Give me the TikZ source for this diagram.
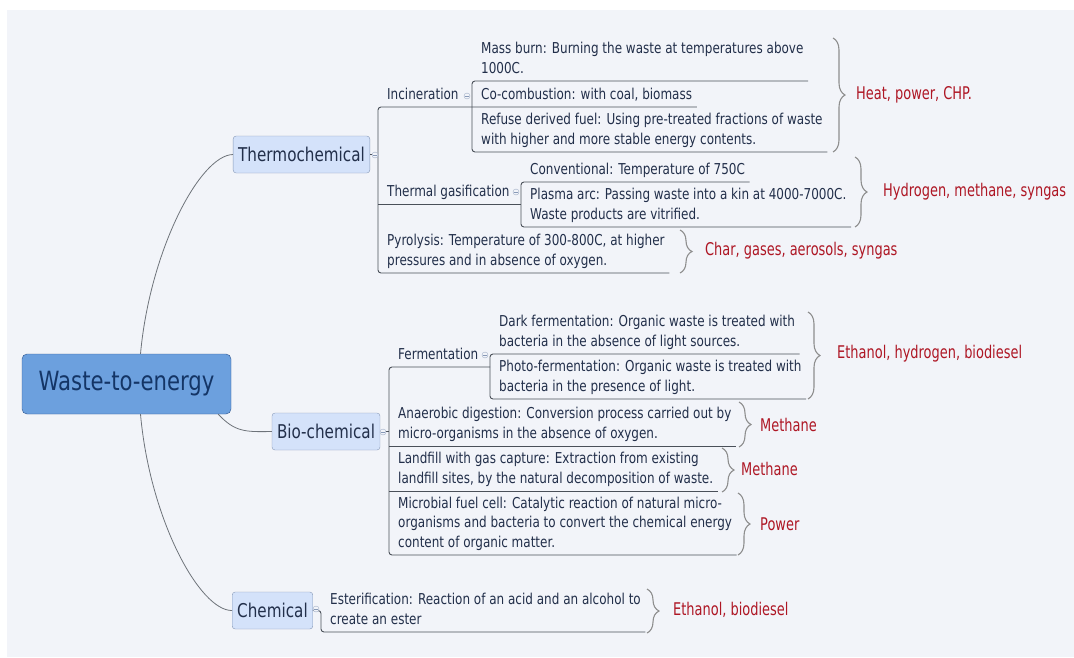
\documentclass[tikz,border=0pt]{standalone}
\usepackage{fontspec}
\usepackage{xcolor}
\usepackage{tikz}
\usetikzlibrary{decorations.pathreplacing}
\setmainfont{DejaVu Sans}[FakeStretch=0.8]
\newfontfamily\notefont{DejaVu Sans}[FakeStretch=0.74]
\definecolor{wtebg}{HTML}{F2F4F9}
\definecolor{wteroot}{HTML}{6CA0DE}
\definecolor{wterootline}{HTML}{2E568F}
\definecolor{wtenavy}{HTML}{143566}
\definecolor{wtebranch}{HTML}{D4E2FA}
\definecolor{wtebranchline}{HTML}{8799B7}
\definecolor{wtetext}{HTML}{222F4A}
\definecolor{wteline}{HTML}{4A5059}
\definecolor{wtecurve}{HTML}{6E737A}
\definecolor{wtered}{HTML}{AE1624}
\definecolor{wtebrace}{HTML}{8E8E8E}

\begin{document}
\begin{tikzpicture}[x=1pt, y=-1pt,
  root/.style={draw=wterootline, fill=wteroot, rounded corners=5pt, text=wtenavy,
    minimum width=209pt, minimum height=60pt, font=\fontsize{26.5}{30}\selectfont},
  branch/.style={draw=wtebranchline, fill=wtebranch, rounded corners=3pt, text=wtetext,
    minimum height=37pt, inner xsep=5pt, font=\fontsize{19}{22}\selectfont},
  topic/.style={anchor=south west, align=left, inner xsep=4.5pt, inner ysep=1.5pt,
    text=wtetext, font=\fontsize{15}{19.5}\selectfont, execute at end node=\strut},
  result/.style={anchor=west, inner sep=2pt, text=wtered,
    font=\notefont\fontsize{17.5}{20}\selectfont},
  uline/.style={draw=wteline, line width=0.9pt, rounded corners=3pt},
  curve/.style={draw=wtecurve, line width=0.8pt},
  brc/.style={decorate, decoration={brace, amplitude=12pt}, draw=wtebrace, line width=1.1pt},
  fold/.style={circle, draw=wtebranchline!80, fill=wtebg, minimum size=6pt, inner sep=0pt,
    path picture={\draw[wtebranchline] ([xshift=1.2pt]path picture bounding box.west)
      -- ([xshift=-1.2pt]path picture bounding box.east);}}
]
\useasboundingbox (0,0) rectangle (1074,657);
\fill[white] (0,0) rectangle (1074,657);
\fill[wtebg] (7,10) rectangle (1074,657);

\node[root] (root) at (126.5,384) {Waste-to-energy};
\node[branch] (thermo) at (301.5,154.5) {Thermochemical};
\node[branch] (bio) at (326,431.5) {Bio-chemical};
\node[branch] (chem) at (272.5,610.5) {Chemical};

\draw[curve] ([xshift=14pt]root.north) .. controls (150,250) and (200,155) .. (thermo.west);
\draw[curve] ([xshift=-13pt]root.south east) .. controls (235,432) and (245,432) .. (bio.west);
\draw[curve] ([xshift=14pt]root.south) .. controls (150,520) and (200,611) .. (chem.west);

\coordinate (thbr) at (378,0);
\coordinate (incbr) at (472,0);
\coordinate (gasbr) at (521,0);
\coordinate (biobr) at (389,0);
\coordinate (fermbr) at (490,0);
\coordinate (chbr) at (321,0);

\node[topic] (incin) at (382.5,107) {Incineration};
\node[topic] (mass) at (476.5,81) {Mass burn: Burning the waste at temperatures above\\1000C.};
\node[topic] (cocomb) at (476.5,107) {Co-combustion: with coal, biomass};
\node[topic] (rdf) at (476.5,152) {Refuse derived fuel: Using pre-treated fractions of waste\\with higher and more stable energy contents.};
\node[topic] (gasif) at (382.5,204) {Thermal gasification};
\node[topic] (conv) at (525.5,182) {Conventional: Temperature of 750C};
\node[topic] (plasma) at (525.5,227) {Plasma arc: Passing waste into a kin at 4000-7000C.\\Waste products are vitrified.};
\node[topic] (pyro) at (382.5,273) {Pyrolysis: Temperature of 300-800C, at higher\\pressures and in absence of oxygen.};

\node[topic] (ferm) at (393.5,367) {Fermentation};
\node[topic] (dark) at (494.5,354) {Dark fermentation: Organic waste is treated with\\bacteria in the absence of light sources.};
\node[topic] (photo) at (494.5,399) {Photo-fermentation: Organic waste is treated with\\bacteria in the presence of light.};
\node[topic] (anaer) at (393.5,446) {Anaerobic digestion: Conversion process carried out by\\micro-organisms in the absence of oxygen.};
\node[topic] (landf) at (393.5,491) {Landfill with gas capture: Extraction from existing\\landfill sites, by the natural decomposition of waste.};
\node[topic] (micro) at (393.5,555) {Microbial fuel cell: Catalytic reaction of natural micro-\\organisms and bacteria to convert the chemical energy\\content of organic matter.};

\node[topic] (ester) at (325.5,632) {Esterification: Reaction of an acid and an alcohol to\\create an ester};

\draw[uline] (thermo.east) -- (thermo.east -| thbr);
\draw[uline] (cocomb.south east) -- (incin.south west -| thbr) -- (pyro.south west -| thbr) -- (pyro.south east);
\draw[uline] (mass.south east) -- (mass.south west -| incbr) -- (rdf.south west -| incbr) -- (rdf.south east);
\draw[uline] (gasif.south west -| thbr) -- (gasif.south west -| gasbr);
\draw[uline] (conv.south east) -- (conv.south west -| gasbr) -- (plasma.south west -| gasbr) -- (plasma.south east);

\draw[uline] (bio.east) -- (bio.east -| biobr);
\draw[uline] (ferm.south west -| fermbr) -- (ferm.south west -| biobr) -- (micro.south west -| biobr) -- (micro.south east);
\draw[uline] (anaer.south west -| biobr) -- (anaer.south east);
\draw[uline] (landf.south west -| biobr) -- (landf.south east);
\draw[uline] (dark.south east) -- (dark.south west -| fermbr) -- (photo.south west -| fermbr) -- (photo.south east);

\draw[uline] (chem.east) -- (chem.east -| chbr) -- (ester.south west -| chbr) -- (ester.south east);

\node[fold] (thfold) at (375,155) {};
\node[fold] (incfold) at (467,96) {};
\node[fold] (gasfold) at (516,192) {};
\node[fold] (fermfold) at (485,355) {};
\node[fold] (biofold) at (383,432) {};
\node[fold] (chfold) at (316,609) {};

\draw[brc] (833,38) -- (833,152);
\draw[brc] (855,157) -- (855,227);
\draw[brc] (680,230) -- (680,273);
\draw[brc] (808,312) -- (808,399);
\draw[brc] (739,402) -- (739,447);
\draw[brc] (722,448) -- (722,492);
\draw[brc] (738,493) -- (738,555);
\draw[brc] (647,589) -- (647,633);

\node[result] (heat) at (854,95) {Heat, power, CHP.};
\node[result] (hydro) at (881,192) {Hydrogen, methane, syngas};
\node[result] (char) at (703,251) {Char, gases, aerosols, syngas};
\node[result] (ethan) at (835,354) {Ethanol, hydrogen, biodiesel};
\node[result] (methA) at (758,425) {Methane};
\node[result] (methB) at (739,469) {Methane};
\node[result] (power) at (758,524) {Power};
\node[result] (biodsl) at (671,610) {Ethanol, biodiesel};
\end{tikzpicture}
\end{document}
